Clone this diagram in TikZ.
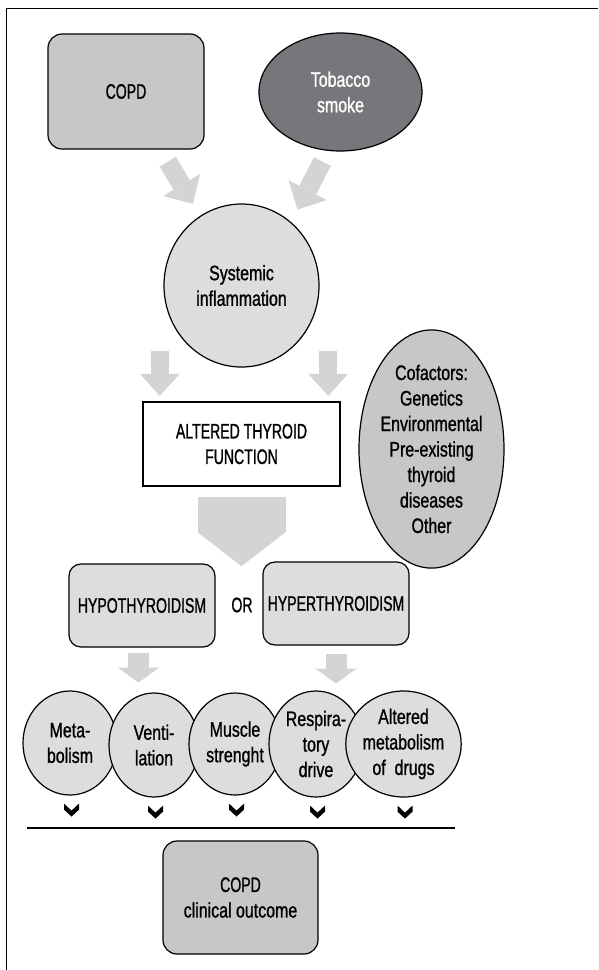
\documentclass[tikz,border=0pt]{standalone}
\usepackage{fontspec}
\setmainfont{Liberation Sans}[FakeStretch=0.76, FakeBold=1]
\newfontfamily\capsfamily{Liberation Sans}[FakeStretch=0.67, FakeBold=1]
\usetikzlibrary{positioning,calc,arrows.meta,shapes.geometric}
\definecolor{boxgray}{HTML}{C6C7C9}
\definecolor{cellgray}{HTML}{DCDDDE}
\definecolor{smokegray}{HTML}{76777A}
\definecolor{arrowgray}{HTML}{D3D4D5}
\newcommand{\capsfont}{\capsfamily\fontsize{21}{25.5}\selectfont}
\tikzset{causenode/.style={shape=rectangle, rounded corners=14pt, draw=black, fill=boxgray, line width=1.2pt, minimum width=156pt, minimum height=115pt, inner sep=0pt, align=center}}
\tikzset{smokenode/.style={shape=ellipse, draw=black, fill=smokegray, text=white, line width=1.2pt, minimum width=163pt, minimum height=118pt, inner sep=0pt, align=center}}
\tikzset{roundnode/.style={shape=ellipse, draw=black, fill=cellgray, line width=1.2pt, inner sep=0pt, align=center}}
\tikzset{thyroidnode/.style={shape=rectangle, rounded corners=12pt, draw=black, fill=cellgray, line width=1.2pt, minimum width=146pt, minimum height=83pt, inner sep=0pt}}
\tikzset{fatarrow/.style={draw=arrowgray, line width=#1}}
\tikzset{diagarrow/.style={fatarrow=19pt, -{Triangle[width=43pt,length=22pt,line width=0pt]}}}
\tikzset{downarrow/.style={fatarrow=18pt, -{Triangle[width=40pt,length=22pt,line width=0pt]}}}
\tikzset{smallarrow/.style={fatarrow=21pt, -{Triangle[width=41pt,length=15pt,line width=0pt]}}}
\tikzset{bigarrow/.style={fatarrow=88pt, -{Triangle[width=88pt,length=34pt,line width=0pt]}}}
\begin{document}
\begin{tikzpicture}[x=1pt, y=-1pt, font=\fontsize{21}{25.5}\selectfont]
\useasboundingbox (0,0) rectangle (598,970);
%Frame
\draw[line width=1.8pt] (6.5,970) -- (6.5,8.5) -- (598,8.5);
%Nodes
\node[causenode]   (copd)    at (126,91.5)  {\capsfont COPD};
\node[smokenode]   (tob)     at (340.5,92)  {Tobacco\\smoke};
\node[roundnode, minimum width=155pt, minimum height=163pt] (infl) at (241.5,285.5) {Systemic\\inflammation};
\node[draw=black, fill=white, line width=2.4pt, minimum width=197pt, minimum height=84pt, align=center, font=\capsfont] (atf) at (241.5,444) {ALTERED THYROID\\FUNCTION};
\node[shape=ellipse, draw=black, fill=boxgray, line width=1.2pt, minimum width=145pt, minimum height=220pt, inner sep=0pt, align=center] (cof) at (431.5,449) {Cofactors:\\Genetics\\Environmental\\Pre-existing\\thyroid\\diseases\\Other};
\node[thyroidnode] (hypo)    at (142,605.5) {\capsfont HYPOTHYROIDISM};
\node[font=\capsfont] (or)   at (242,605)   {OR};
\node[thyroidnode] (hyper)   at (336,603.5) {\capsfont HYPERTHYROIDISM};
\node[roundnode, minimum width=94pt, minimum height=104pt]  (m1) at (70,743)    {Meta-\\bolism};
\node[roundnode, minimum width=90pt, minimum height=104pt]  (m2) at (154,745)   {Venti-\\lation};
\node[roundnode, minimum width=92pt, minimum height=102pt]  (m3) at (235,744)   {Muscle\\strenght};
\node[roundnode, minimum width=94pt, minimum height=106pt]  (m4) at (316,744)   {Respira-\\tory\\drive};
\node[roundnode, minimum width=101pt, minimum height=106pt] (m5) at (403.5,744) {Altered\\metabolism\\of\ \ drugs};
\node[causenode, minimum width=155pt, minimum height=113pt] (outcome) at (240.5,897.5) {\capsfont COPD\\{\normalfont\fontsize{21}{25.5}\selectfont clinical outcome}};
\coordinate (ruleL) at (27,828);
\coordinate (ruleR) at (455,828);
%Lines
\draw[diagarrow, shorten <=14pt, shorten >=14pt] (copd) -- (infl);
\draw[diagarrow, shorten <=12pt, shorten >=14pt] (tob.258) -- (infl.52);
\draw[downarrow] ([xshift=18pt,yshift=50pt]atf.north west) -- ([xshift=18pt,yshift=5pt]atf.north west);
\draw[downarrow] ([xshift=-13pt,yshift=50pt]atf.north east) -- ([xshift=-13pt,yshift=5pt]atf.north east);
\draw[bigarrow] ([yshift=-10pt]atf.south) -- ([yshift=-79pt]atf.south);
\draw[smallarrow] ([xshift=-3.5pt,yshift=-5pt]hypo.south) -- ([xshift=-3.5pt,yshift=-35pt]hypo.south);
\draw[smallarrow] ([yshift=-8pt]hyper.south) -- ([yshift=-38pt]hyper.south);
\foreach \m in {m1,m2,m3,m4,m5}
  \fill ([xshift=1.5pt,yshift=-8pt]\m.south) ++(-7.5,0) -- ++(0,6) -- ++(7.5,7) -- ++(7.5,-7) -- ++(0,-6) -- ++(-7.5,7) -- cycle;
\draw[line width=1.3pt] (ruleL) -- (ruleR);
\end{tikzpicture}
\end{document}
